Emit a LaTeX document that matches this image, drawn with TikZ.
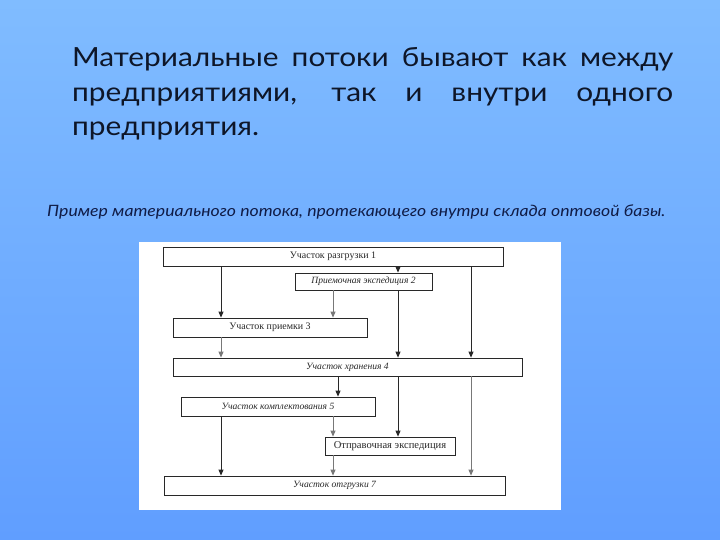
\documentclass[tikz,border=0pt]{standalone}
\usepackage{fontspec}
\setmainfont{Lato}[FakeStretch=1.13]
\newfontfamily\dserif{Liberation Serif}
\usetikzlibrary{arrows.meta}
\definecolor{bgtop}{RGB}{128,188,255}
\definecolor{bgbot}{RGB}{96,158,255}
\definecolor{ink}{RGB}{14,22,40}
\definecolor{capink}{RGB}{16,28,70}
\definecolor{dink}{RGB}{40,40,40}
\definecolor{faint}{RGB}{120,120,120}
\tikzset{
  maintext/.style={anchor=base west, inner sep=0pt, text=ink, font=\fontsize{26.5}{32}\selectfont},
  box/.style={draw=dink, line width=0.8bp, inner sep=0pt, text=dink, font=\dserif\fontsize{10}{12}\selectfont},
  ibox/.style={box, font=\dserif\itshape\fontsize{9.6}{11}\selectfont},
  arr/.style={draw=dink, line width=0.8bp, -{Triangle[width=5bp,length=6bp]}},
  farr/.style={arr, draw=faint, fill=dink},
}
\begin{document}
\begin{tikzpicture}[x=1bp,y=-1bp]
\useasboundingbox (0,0) rectangle (720,540);
\shade[top color=bgtop, bottom color=bgbot] (0,0) rectangle (720,540);
% main text
\node[maintext] (l1) at (72,67) {\makebox[601bp][s]{Материальные потоки бывают как между}};
\node[maintext] (l2) at (72,102) {\makebox[601bp][s]{предприятиями, так и внутри одного}};
\node[maintext] (l3) at (72,136) {предприятия.};
\node[anchor=base west, inner sep=0pt, text=capink, font=\itshape\fontsize{15.7}{18}\selectfont] (cap) at (47,217) {Пример материального потока, протекающего внутри склада оптовой базы.};
% panel
\fill[white] (139,242) rectangle (561,510);
% boxes
\node[box, minimum width=340bp, minimum height=19bp] (b1) at (333,256.5) {Участок разгрузки 1};
\node[ibox, minimum width=137bp, minimum height=17bp] (b2) at (363.5,281.5) {Приемочная экспедиция 2};
\node[box, minimum width=194bp, minimum height=19bp] (b3) at (270,327.5) {Участок приемки 3};
\node[ibox, minimum width=349bp, minimum height=18bp] (b4) at (347.5,367) {Участок хранения 4};
\node[ibox, minimum width=194bp, minimum height=19bp] (b5) at (278,406.5) {Участок комплектования 5};
\node[box, minimum width=130bp, minimum height=18bp, font=\dserif\fontsize{10.6}{12}\selectfont] (b6) at (390,446) {Отправочная экспедиция};
\node[ibox, minimum width=341bp, minimum height=19bp] (b7) at (334.5,485.5) {Участок отгрузки 7};
% x positions
\coordinate (xa) at (221,0);
\coordinate (xb) at (333,0);
\coordinate (xc) at (398,0);
\coordinate (xd) at (471,0);
\coordinate (xe) at (338,0);
% connectors
\draw[arr] (b1.south -| xa) -- (b3.north -| xa);
\draw[arr] (b1.south -| xc) -- (b2.north -| xc);
\draw[arr] (b1.south -| xd) -- (b4.north -| xd);
\draw[farr] (b2.south -| xb) -- (b3.north -| xb);
\draw[arr] (b2.south -| xc) -- (b4.north -| xc);
\draw[farr] (b3.south -| xa) -- (b4.north -| xa);
\draw[arr] (b4.south -| xe) -- (b5.north -| xe);
\draw[arr] (b4.south -| xc) -- (b6.north -| xc);
\draw[farr] (b4.south -| xd) -- (b7.north -| xd);
\draw[arr] (b5.south -| xa) -- (b7.north -| xa);
\draw[farr] (b5.south -| xb) -- (b6.north -| xb);
\draw[farr] (b6.south -| xb) -- (b7.north -| xb);
\end{tikzpicture}
\end{document}
